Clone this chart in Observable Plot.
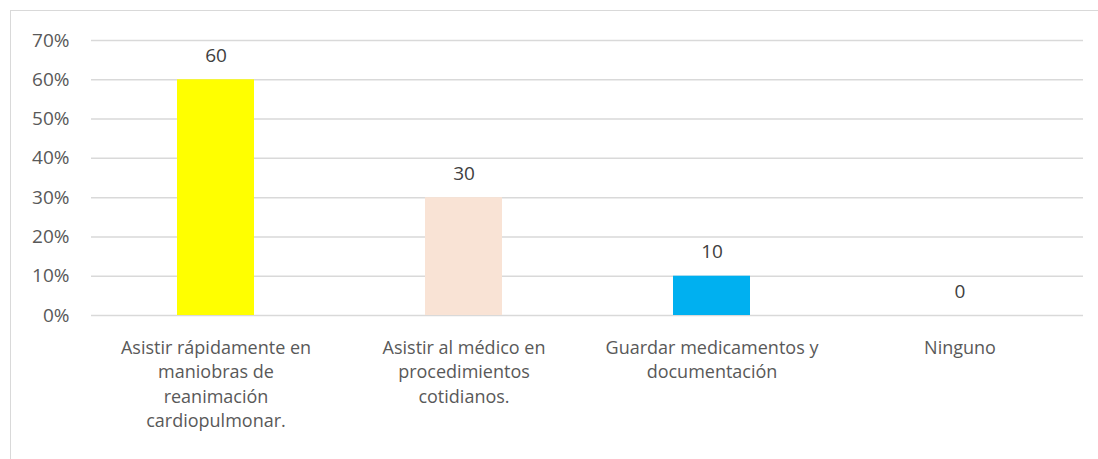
<!DOCTYPE html>
<html>
<head>
<meta charset="utf-8">
<script src="https://cdn.jsdelivr.net/npm/d3@7"></script>
<script src="https://cdn.jsdelivr.net/npm/@observablehq/plot@0.6"></script>
<style>
  body { margin: 0; background: #fff; }
  #wrap { position: relative; width: 1098px; height: 459px; overflow: hidden; }
  #border { position: absolute; left: 10px; top: 10px; width: 1100px; height: 460px; border-top: 1.5px solid #d9d9d9; border-left: 1.5px solid #d9d9d9; }
  #chart { position: absolute; left: 0; top: 0; }
</style>
</head>
<body>
<div id="wrap"><div id="border"></div><div id="chart"></div></div>
<script>
const categories = [
  "Asistir rápidamente en\nmaniobras de\nreanimación\ncardiopulmonar.",
  "Asistir al médico en\nprocedimientos\ncotidianos.",
  "Guardar medicamentos y\ndocumentación",
  "Ninguno"
];
const values = [60, 30, 10, 0];
const colors = ["#FFFF00", "#F9E3D5", "#00B0F0", "#A5A5A5"];
const yTicks = [0, 10, 20, 30, 40, 50, 60, 70];

const data = categories.map((c, i) => ({cat: c, value: values[i], color: colors[i]}));

const font = "'Open Sans', sans-serif";

const chart = Plot.plot({
  width: 1098,
  height: 459,
  marginLeft: 91,
  marginRight: 15,
  marginTop: 40,
  marginBottom: 144,
  style: {fontFamily: font, fontSize: "18.5px", color: "#595959", background: "transparent"},
  x: {domain: categories, paddingInner: 0.69, paddingOuter: 0.345, label: null},
  y: {domain: [0, 70], label: null},
  marks: [
    Plot.gridY(yTicks, {stroke: "#d9d9d9", strokeOpacity: 1, strokeWidth: 1.5}),
    Plot.barY(data, {x: "cat", y: "value", fill: "color"}),
    Plot.text(data, {x: "cat", y: "value", text: d => String(d.value), dy: -24, fontSize: 19, fill: "#404040"}),
    Plot.axisY({ticks: yTicks, tickSize: 0, tickPadding: 22, tickFormat: d => d + "%", fontSize: 19, fill: "#595959", label: null}),
    Plot.axisX({tickSize: 0, tickPadding: 21, fontSize: 18, lineHeight: 1.36, fill: "#595959", label: null})
  ]
});
document.getElementById("chart").appendChild(chart);
</script>
</body>
</html>
